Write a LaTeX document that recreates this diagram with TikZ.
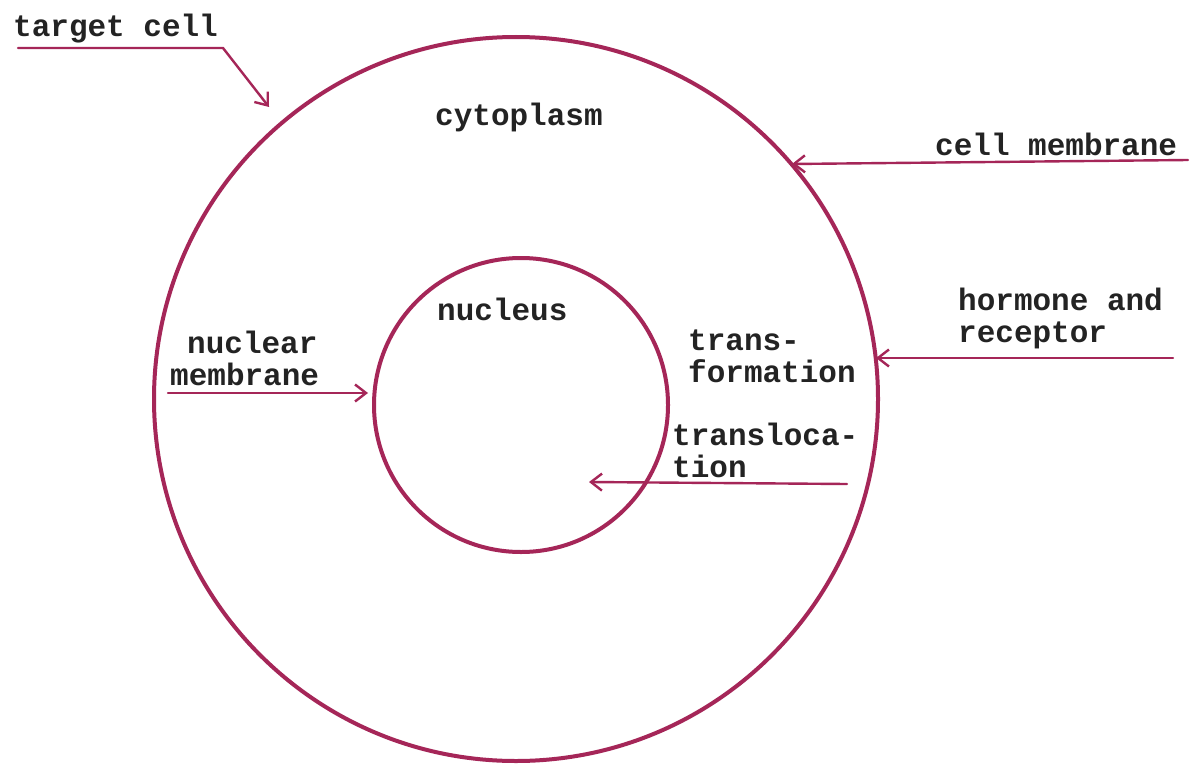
\documentclass[tikz,border=0pt]{standalone}
\usepackage{fontspec}
\setmonofont{Liberation Mono}
\usetikzlibrary{arrows.meta}
\definecolor{ink}{RGB}{165,38,88}
\definecolor{txt}{RGB}{35,35,35}
\begin{document}
\begin{tikzpicture}[x=1pt,y=-1pt,
  lbl/.style={inner sep=0pt, anchor=base west, align=left, text=txt,
    font=\ttfamily\bfseries\fontsize{31}{32}\selectfont},
  ring/.style={draw=ink, line width=4pt, circle, inner sep=0pt},
  pointer/.style={draw=ink, line width=2.4pt, line cap=round,
    -{Straight Barb[length=11pt,width=17pt,line width=2.4pt]}}]
\useasboundingbox (0,0) rectangle (1193,765);
\fill[white] (0,0) rectangle (1193,765);
% circles
\node[ring, minimum size=724pt] (cell) at (516,399) {};
\node[ring, minimum size=294pt] (nuc) at (521,405) {};
% labels (multi-line labels are placed at the baseline of their last line)
\node[lbl] (ltarget) at (13,37) {target cell};
\node[lbl] (lcyto) at (435,125) {cytoplasm};
\node[lbl] (lmem) at (935,155) {cell membrane};
\node[lbl] (lhorm) at (958,342) {hormone and\\receptor};
\node[lbl] (lnuc) at (437,320) {nucleus};
\node[lbl] (lnm1) at (187,353) {nuclear};
\node[lbl] (lnm2) at (170,385) {membrane};
\node[lbl] (ltrf) at (688,382) {trans-\\formation};
\node[lbl] (ltrl) at (672,477) {transloca-\\tion};
% connector points
\coordinate (a1) at (18,48);
\coordinate (a2) at (223,48);
\coordinate (a3) at (269,107);
\coordinate (b1) at (1188,160);
\coordinate (b2) at (792,164);
\coordinate (c1) at (1173,358);
\coordinate (c2) at (876,358);
\coordinate (d1) at (168,393);
\coordinate (d2) at (368,393);
\coordinate (e1) at (847,484);
\coordinate (e2) at (589,482);
% connectors
\draw[pointer, line join=miter] (a1) -- (a2) -- (a3);
\draw[pointer] (b1) -- (b2);
\draw[pointer] (c1) -- (c2);
\draw[pointer] (d1) -- (d2);
\draw[pointer] (e1) -- (e2);
\end{tikzpicture}
\end{document}
